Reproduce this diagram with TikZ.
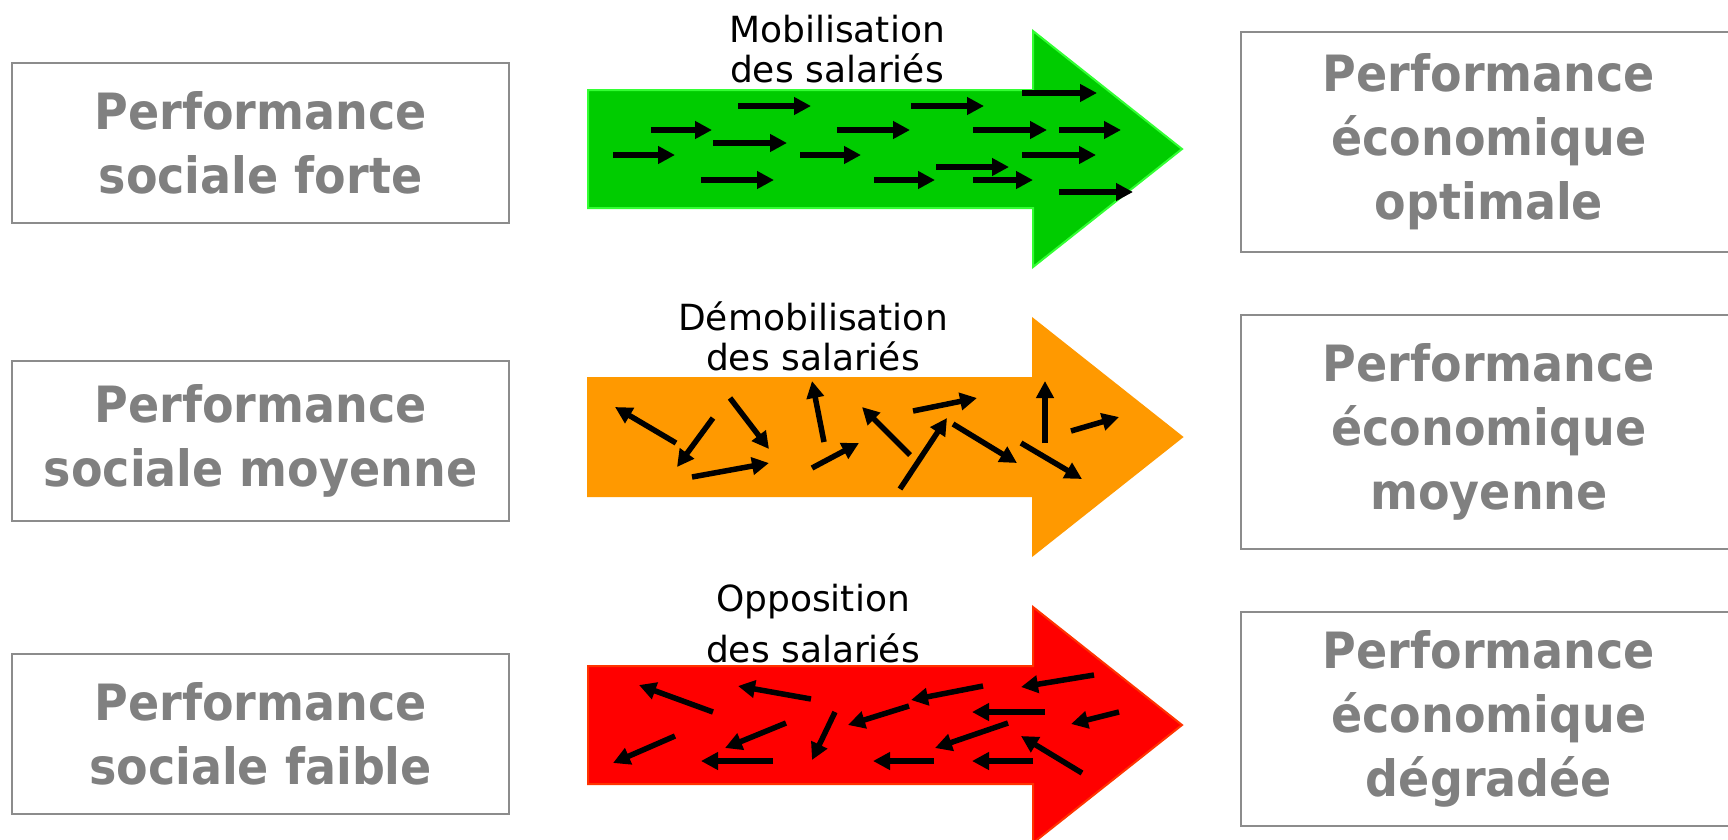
\documentclass[tikz,border=0pt]{standalone}
\usepackage{fontspec}
\setmainfont{DejaVu Sans}
\newfontfamily\boxfont[FakeStretch=0.92]{DejaVu Sans}
\usepackage{xcolor}
\usepackage{tikz}
\usetikzlibrary{arrows.meta, positioning}

\definecolor{boxgray}{RGB}{140,140,140}
\definecolor{textgray}{RGB}{128,128,128}
\definecolor{mobgreen}{RGB}{0,204,0}
\definecolor{mobedge}{RGB}{51,255,51}
\definecolor{demorange}{RGB}{255,153,0}
\definecolor{oppred}{RGB}{255,0,0}
\definecolor{oppedge}{RGB}{255,51,0}

\begin{document}
\begin{tikzpicture}[
    x=1pt, y=-1pt,
    perfbox/.style={draw=boxgray, line width=2pt, text=textgray, align=center, inner sep=0pt,
        font=\boxfont\bfseries\fontsize{50}{64}\selectfont},
    socbox/.style={perfbox, minimum width=497pt, minimum height=160pt},
    ecobox/.style={perfbox, minimum width=496pt},
    flowlabel/.style={anchor=south, align=center, inner sep=0pt, font=\fontsize{36}{40}\selectfont},
    flowarrow/.style={line width=2pt, line join=miter},
    tick/.style={line width=5.5pt, -{Triangle[length=17pt,width=17pt]}},
]
    \clip (0,0) rectangle (1728,839);

    % Social performance (left)
    \node[socbox] (soc1) at (260.5,143) {Performance\\sociale forte};
    \node[socbox, below=136pt of soc1] (soc2) {Performance\\sociale moyenne};
    \node[socbox, below=131pt of soc2] (soc3) {Performance\\sociale faible};

    % Economic performance (right)
    \node[ecobox, minimum height=220pt] (eco1) at (1489,142) {Performance\\économique\\optimale};
    \node[ecobox, minimum height=234pt, below=61pt of eco1] (eco2) {Performance\\économique\\moyenne};
    \node[ecobox, minimum height=214pt, below=61pt of eco2] (eco3) {Performance\\économique\\dégradée};

    % Big arrows
    \foreach \yc/\fillc/\linec in {149/mobgreen/mobedge, 437/demorange/demorange, 725/oppred/oppedge}
        \filldraw[flowarrow, fill=\fillc, draw=\linec]
            (588,\yc-59) -- (1033,\yc-59) -- (1033,\yc-118) -- (1182,\yc)
            -- (1033,\yc+118) -- (1033,\yc+59) -- (588,\yc+59) -- cycle;

    % Employees: all in the same direction
    \foreach \xa/\xb/\yy in {613/675/155, 651/712/130, 738/811/106, 713/787/143, 701/774/180,
        800/861/155, 837/910/130, 911/984/106, 874/935/180, 936/1009/167, 973/1033/180,
        973/1047/130, 1022/1097/93, 1059/1121/130, 1022/1096/155, 1059/1133/192}
        \draw[tick] (\xa,\yy) -- (\xb,\yy);

    % Employees: scattered
    \foreach \xa/\ya/\xb/\yb in {676/443/615/407, 713/418/677/467, 730/398/769/449,
        692/477/769/463, 824/442/812/381, 812/468/859/443, 910/455/862/407, 913/411/977/398,
        900/489/947/418, 953/424/1017/463, 1045/443/1045/381, 1071/431/1119/417, 1021/443/1082/479}
        \draw[tick] (\xa,\ya) -- (\xb,\yb);

    % Employees: against
    \foreach \xa/\ya/\xb/\yb in {713/712/639/685, 811/699/738/686, 675/736/613/763,
        786/723/725/748, 773/761/701/761, 835/712/812/760, 983/686/911/700, 909/706/848/725,
        934/761/873/761, 1094/675/1021/687, 1045/712/972/712, 1119/712/1071/724,
        1008/723/935/748, 1033/761/972/761, 1082/773/1021/736}
        \draw[tick] (\xa,\ya) -- (\xb,\yb);

    % Labels
    \node[flowlabel] (lblmob) at (837,83) {Mobilisation\\des salariés};
    \node[flowlabel] (lbldem) at (813,371) {Démobilisation\\des salariés};
    \node[flowlabel] (lblopp) at (813,663) {Opposition\\[11pt]des salariés};
\end{tikzpicture}
\end{document}
